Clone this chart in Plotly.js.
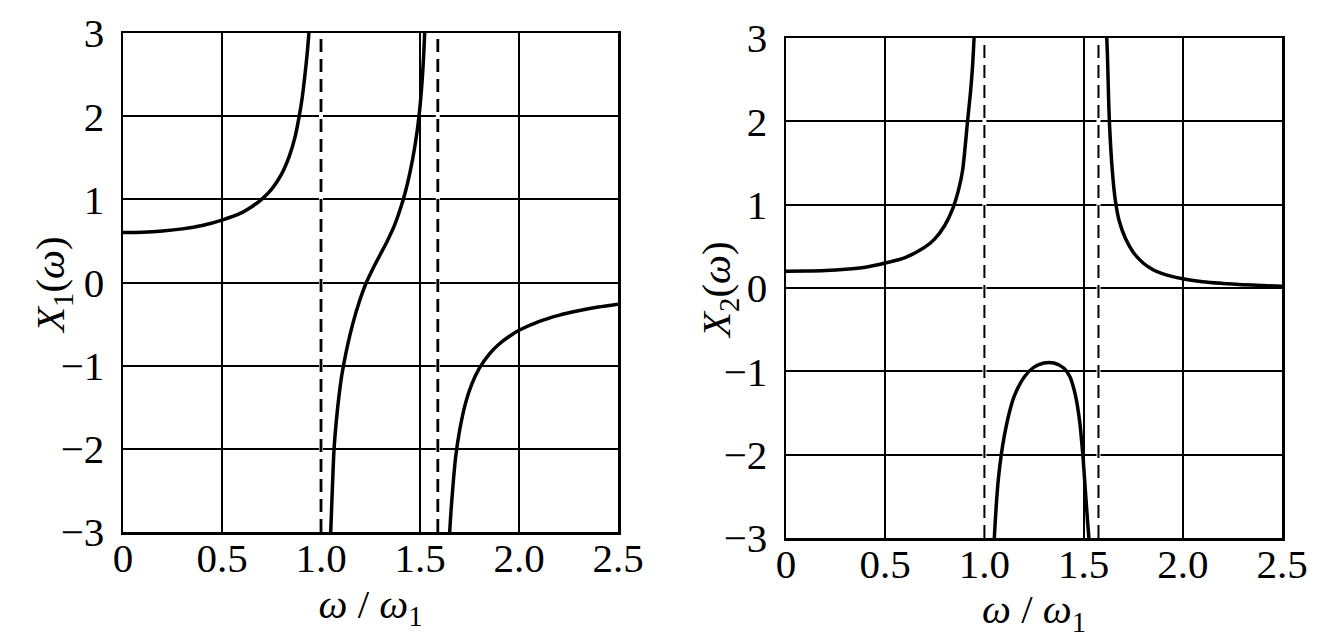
<!DOCTYPE html>
<html>
<head>
<meta charset="utf-8">
<script src="https://cdn.plot.ly/plotly-3.0.1.min.js"></script>
<style>html,body{margin:0;padding:0;background:#fff;}#chart{width:1327px;height:638px;}</style>
</head>
<body>
<div id="chart"></div>
<script>
// ---------- data ----------
const tickVals = [0, 0.5, 1.0, 1.5, 2.0, 2.5];
const tickText = ["0", "0.5", "1.0", "1.5", "2.0", "2.5"];
const yTickVals = [-3, -2, -1, 0, 1, 2, 3];
const yRange = [-3, 3];
const xTitle = "<i>ω</i> / <i>ω</i><sub>1</sub>";
const yTitles = ["<i>X</i><sub>1</sub>(<i>ω</i>)", "<i>X</i><sub>2</sub>(<i>ω</i>)"];

// X1(omega), three branches
const x1BranchA_w = [0, 0.1, 0.2, 0.3, 0.4, 0.5, 0.6, 0.65, 0.7, 0.75, 0.8, 0.84, 0.87, 0.89, 0.905, 0.92, 0.932, 0.942, 0.95];
const x1BranchA_y = [0.6, 0.605, 0.62, 0.645, 0.685, 0.75, 0.84, 0.91, 1.0, 1.12, 1.3, 1.52, 1.76, 2.0, 2.22, 2.52, 2.8, 3.1, 3.4];
const x1BranchB_w = [1.043, 1.049, 1.057, 1.066, 1.078, 1.09, 1.106, 1.13, 1.16, 1.195, 1.229, 1.265, 1.3, 1.335, 1.37, 1.4, 1.425, 1.45, 1.475, 1.495, 1.51, 1.52, 1.528];
const x1BranchB_y = [-3.3, -3.0, -2.5, -2.0, -1.65, -1.38, -1.1, -0.8, -0.5, -0.22, 0.0, 0.18, 0.34, 0.5, 0.68, 0.88, 1.08, 1.33, 1.65, 2.0, 2.4, 2.8, 3.3];
const x1BranchC_w = [1.645, 1.65, 1.66, 1.68, 1.7, 1.73, 1.76, 1.8, 1.85, 1.9, 1.95, 2.0, 2.1, 2.2, 2.3, 2.4, 2.5];
const x1BranchC_y = [-3.3, -3.0, -2.64, -2.1, -1.78, -1.45, -1.23, -1.03, -0.86, -0.74, -0.65, -0.575, -0.47, -0.395, -0.34, -0.295, -0.26];
const x1Asymptotes = [1.0, 1.59];

// X2(omega), three branches
const x2BranchA_w = [0, 0.1, 0.2, 0.3, 0.4, 0.5, 0.6, 0.7, 0.75, 0.8, 0.84, 0.87, 0.89, 0.915, 0.93, 0.94, 0.948, 0.955];
const x2BranchA_y = [0.2, 0.203, 0.21, 0.225, 0.25, 0.3, 0.365, 0.49, 0.59, 0.75, 0.95, 1.18, 1.41, 2.0, 2.35, 2.65, 3.0, 3.3];
const x2BranchB_w = [1.045, 1.05, 1.06, 1.07, 1.085, 1.1, 1.125, 1.15, 1.2, 1.25, 1.3, 1.35, 1.4, 1.43, 1.46, 1.48, 1.496, 1.508, 1.52, 1.53, 1.535];
const x2BranchB_y = [-3.3, -3.0, -2.6, -2.3, -2.0, -1.78, -1.5, -1.3, -1.07, -0.95, -0.9, -0.9, -0.96, -1.06, -1.3, -1.6, -2.0, -2.4, -2.8, -3.1, -3.3];
const x2BranchC_w = [1.612, 1.62, 1.63, 1.645, 1.66, 1.68, 1.71, 1.75, 1.8, 1.85, 1.9, 2.0, 2.1, 2.2, 2.3, 2.4, 2.5];
const x2BranchC_y = [3.3, 2.8, 2.0, 1.4, 1.05, 0.8, 0.6, 0.43, 0.3, 0.22, 0.17, 0.11, 0.075, 0.055, 0.04, 0.03, 0.02];
const x2Asymptotes = [1.0, 1.575];

// ---------- layout geometry (pixels) ----------
const W = 1327, H = 638;
const leftBox = {x0: 123, x1: 618, y0: 33, y1: 532, titleX: 53, titleY: 285};
const rightBox = {x0: 786, x1: 1282, y0: 38, y1: 538, titleX: 719, titleY: 290};
const FONT = "'Liberation Serif', 'Times New Roman', serif";
const FS = 41;

function vlines(xs, r) {
  const x = [], y = [];
  xs.forEach(v => { x.push(v, v, null); y.push(r[0], r[1], null); });
  return {x, y};
}
function curve(w, y, xa, ya) {
  return {x: w, y: y, xaxis: xa, yaxis: ya, mode: "lines", type: "scatter",
          line: {color: "#000", width: 3.5, shape: "spline", smoothing: 0.8}, hoverinfo: "skip", showlegend: false};
}
function asym(xs, xa, ya, width) {
  const v = vlines(xs, yRange);
  return [
    {x: v.x, y: v.y, xaxis: xa, yaxis: ya, mode: "lines", line: {color: "#fff", width: 4}, hoverinfo: "skip", showlegend: false},
    {x: v.x, y: v.y, xaxis: xa, yaxis: ya, mode: "lines", line: {color: "#000", width: width, dash: "13px,7px"}, hoverinfo: "skip", showlegend: false}
  ];
}

const traces = [
  ...asym(x1Asymptotes, "x", "y", 2.8),
  curve(x1BranchA_w, x1BranchA_y, "x", "y"),
  curve(x1BranchB_w, x1BranchB_y, "x", "y"),
  curve(x1BranchC_w, x1BranchC_y, "x", "y"),
  ...asym(x2Asymptotes, "x2", "y2", 2),
  curve(x2BranchA_w, x2BranchA_y, "x2", "y2"),
  curve(x2BranchB_w, x2BranchB_y, "x2", "y2"),
  curve(x2BranchC_w, x2BranchC_y, "x2", "y2")
];

function xAxis(box, anchor) {
  return {
    domain: [box.x0 / W, box.x1 / W], anchor: anchor, range: [0, 2.5],
    tickmode: "array", tickvals: tickVals, ticktext: tickText, ticks: "",
    showgrid: true, gridcolor: "#000", gridwidth: 2, zeroline: false,
    showline: true, mirror: true, linecolor: "#000", linewidth: 2.5,
    tickfont: {family: FONT, size: FS, color: "#000"}, ticklabelstandoff: -12,
    title: {text: xTitle, font: {family: FONT, size: FS, color: "#000"}, standoff: 0},
    fixedrange: true
  };
}
function yAxis(box, anchor) {
  return {
    domain: [1 - box.y1 / H, 1 - box.y0 / H], anchor: anchor, range: yRange,
    tickmode: "array", tickvals: yTickVals, ticks: "",
    showgrid: true, gridcolor: "#000", gridwidth: 2, zeroline: true, zerolinecolor: "#000", zerolinewidth: 2,
    showline: true, mirror: true, linecolor: "#000", linewidth: 2.5,
    tickfont: {family: FONT, size: FS, color: "#000"}, ticklabelstandoff: 8,
    fixedrange: true
  };
}
function yTitle(box, text) {
  return {text: text, xref: "paper", yref: "paper", x: box.titleX / W, y: 1 - box.titleY / H,
          xanchor: "center", yanchor: "middle", textangle: -90, showarrow: false,
          font: {family: FONT, size: FS, color: "#000"}};
}

const layout = {
  width: W, height: H,
  margin: {l: 0, r: 0, t: 0, b: 0},
  paper_bgcolor: "#fff", plot_bgcolor: "#fff",
  font: {family: FONT, size: FS, color: "#000"},
  showlegend: false,
  xaxis: xAxis(leftBox, "y"),
  yaxis: yAxis(leftBox, "x"),
  xaxis2: xAxis(rightBox, "y2"),
  yaxis2: yAxis(rightBox, "x2"),
  annotations: [yTitle(leftBox, yTitles[0]), yTitle(rightBox, yTitles[1])]
};

Plotly.newPlot("chart", traces, layout, {displayModeBar: false, staticPlot: true});
</script>
</body>
</html>
